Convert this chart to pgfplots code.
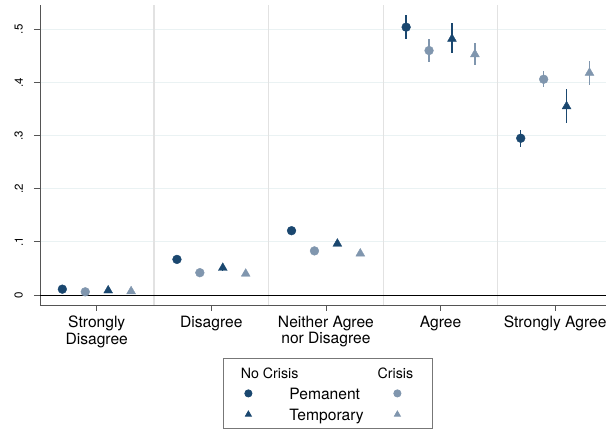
\documentclass[border=0pt]{standalone}
\usepackage{fontspec}
\setmainfont{TeX Gyre Heros}
\usepackage{pgfplots}
\pgfplotsset{compat=1.18}
\definecolor{darkc}{HTML}{1A476F}
\definecolor{lightc}{HTML}{8096AE}
\definecolor{hgrid}{HTML}{EAF2F3}
\definecolor{vgrid}{HTML}{E2E2E2}
\definecolor{spine}{HTML}{555555}
\newcommand{\hdrfont}{\fontsize{14.2}{15}\selectfont}
\pgfplotsset{
  legHeadA/.style={legend image code/.code={\path[draw=none, fill=none] (-25pt,-10pt) rectangle (40pt,15pt);
     \node[overlay, draw=none, fill=none, anchor=west, inner sep=0pt, font=\hdrfont] at (-8pt,0pt) {No Crisis};}},
  legHeadC/.style={legend image code/.code={\path[draw=none, fill=none] (-36pt,-10pt) rectangle (34pt,15pt);
     \node[overlay, draw=none, fill=none, anchor=center, inner sep=0pt, font=\hdrfont] at (-2pt,0pt) {Crisis};}},
  legNone/.style={legend image code/.code={}},
  legCircDark/.style={legend image code/.code={\path[draw=none, fill=none] (-25pt,-10pt) rectangle (40pt,10pt);
     \draw[darkc, fill=darkc, only marks, mark=*, mark size=3.6pt] plot coordinates {(0pt,0pt)};}},
  legCircLight/.style={legend image code/.code={\path[draw=none, fill=none] (-36pt,-10pt) rectangle (34pt,10pt);
     \draw[lightc, fill=lightc, only marks, mark=*, mark size=3.6pt] plot coordinates {(0pt,0pt)};}},
  legTriDark/.style={legend image code/.code={\path[draw=none, fill=none] (-25pt,-14pt) rectangle (40pt,11pt);
     \draw[darkc, fill=darkc, only marks, mark=triangle*, mark size=3.4pt] plot coordinates {(0pt,0pt)};}},
  legTriLight/.style={legend image code/.code={\path[draw=none, fill=none] (-36pt,-14pt) rectangle (34pt,11pt);
     \draw[lightc, fill=lightc, only marks, mark=triangle*, mark size=3.4pt] plot coordinates {(0pt,0pt)};}},
}
\begin{document}
\begin{tikzpicture}
\useasboundingbox (-40pt,-125pt) rectangle (566pt,305pt);
\begin{axis}[
  scale only axis, width=566pt, height=300pt,
  at={(0pt,0pt)}, anchor=south west,
  xmin=0.505, xmax=5.444, ymin=-0.0188, ymax=0.5457,
  axis lines*=left,
  axis line style={spine, line width=0.8pt},
  tick align=outside, major tick length=6pt,
  tick style={spine, line width=0.8pt},
  xtick={1,2,3,4,5},
  xticklabels={{Strongly\\Disagree},Disagree,{Neither Agree\\nor Disagree},Agree,Strongly Agree},
  x tick label style={font=\fontsize{15.6}{16.2}\selectfont, align=center, inner sep=0pt, anchor=north, yshift=-5pt},
  ytick={0,0.1,0.2,0.3,0.4,0.5},
  yticklabels={0,.1,.2,.3,.4,.5},
  y tick label style={font=\fontsize{11.5}{12}\selectfont, rotate=90, anchor=south, inner sep=0pt},
  yticklabel shift=11pt,
  ymajorgrids, major grid style={hgrid, line width=1pt},
  extra x ticks={1.5,2.5,3.5,4.5}, extra x tick labels={},
  extra x tick style={grid=major, major grid style={vgrid, line width=1.3pt}, major tick length=0pt},
  legend columns=3,
  legend style={at={(0.3233,-0.1767)}, anchor=north west, draw=spine!80, line width=0.8pt,
    inner sep=0pt, column sep=0pt, row sep=0pt, fill=white, cells={anchor=west},
    nodes={inner sep=0pt, font=\fontsize{15.6}{16}\selectfont, text depth=0pt}},
]
\addplot[black, line width=0.9pt, forget plot] coordinates {(0.505,0) (5.444,0)};
% No Crisis, Permanent
\addplot[forget plot, darkc, only marks, mark=*, mark size=4.4pt,
  error bars/.cd, y dir=both, y explicit, error mark=none, error bar style={darkc, line width=1.4pt}]
  coordinates {
  (0.7,0.011) += (0,0.003) -= (0,0.003)
  (1.7,0.067) += (0,0.006) -= (0,0.006)
  (2.7,0.121) += (0,0.006) -= (0,0.006)
  (3.7,0.504) += (0,0.023) -= (0,0.023)
  (4.7,0.295) += (0,0.0155) -= (0,0.016)
  };
% Crisis, Permanent
\addplot[forget plot, lightc, only marks, mark=*, mark size=4.4pt,
  error bars/.cd, y dir=both, y explicit, error mark=none, error bar style={lightc, line width=1.4pt}]
  coordinates {
  (0.9,0.006) += (0,0.002) -= (0,0.002)
  (1.9,0.042) += (0,0.004) -= (0,0.004)
  (2.9,0.083) += (0,0.004) -= (0,0.004)
  (3.9,0.460) += (0,0.021) -= (0,0.021)
  (4.9,0.406) += (0,0.0155) -= (0,0.015)
  };
% No Crisis, Temporary
\addplot[forget plot, darkc, only marks, mark=triangle*, mark size=5.1pt,
  error bars/.cd, y dir=both, y explicit, error mark=none, error bar style={darkc, line width=1.4pt}]
  coordinates {
  (1.1,0.0085) += (0,0.003) -= (0,0.003)
  (2.1,0.051) += (0,0.005) -= (0,0.005)
  (3.1,0.0965) += (0,0.005) -= (0,0.005)
  (4.1,0.482) += (0,0.029) -= (0,0.026)
  (5.1,0.355) += (0,0.033) -= (0,0.032)
  };
% Crisis, Temporary
\addplot[forget plot, lightc, only marks, mark=triangle*, mark size=5.1pt,
  error bars/.cd, y dir=both, y explicit, error mark=none, error bar style={lightc, line width=1.4pt}]
  coordinates {
  (1.3,0.007) += (0,0.002) -= (0,0.002)
  (2.3,0.040) += (0,0.003) -= (0,0.003)
  (3.3,0.078) += (0,0.003) -= (0,0.003)
  (4.3,0.453) += (0,0.022) -= (0,0.020)
  (5.3,0.418) += (0,0.022) -= (0,0.023)
  };
\addlegendimage{legHeadA}\addlegendentry{}
\addlegendimage{legNone}\addlegendentry{}
\addlegendimage{legHeadC}\addlegendentry{}
\addlegendimage{legCircDark}\addlegendentry{}
\addlegendimage{legNone}\addlegendentry{\makebox[72pt][l]{Pemanent}}
\addlegendimage{legCircLight}\addlegendentry{}
\addlegendimage{legTriDark}\addlegendentry{}
\addlegendimage{legNone}\addlegendentry{\makebox[72pt][l]{Temporary}}
\addlegendimage{legTriLight}\addlegendentry{}
\end{axis}
\end{tikzpicture}
\end{document}
